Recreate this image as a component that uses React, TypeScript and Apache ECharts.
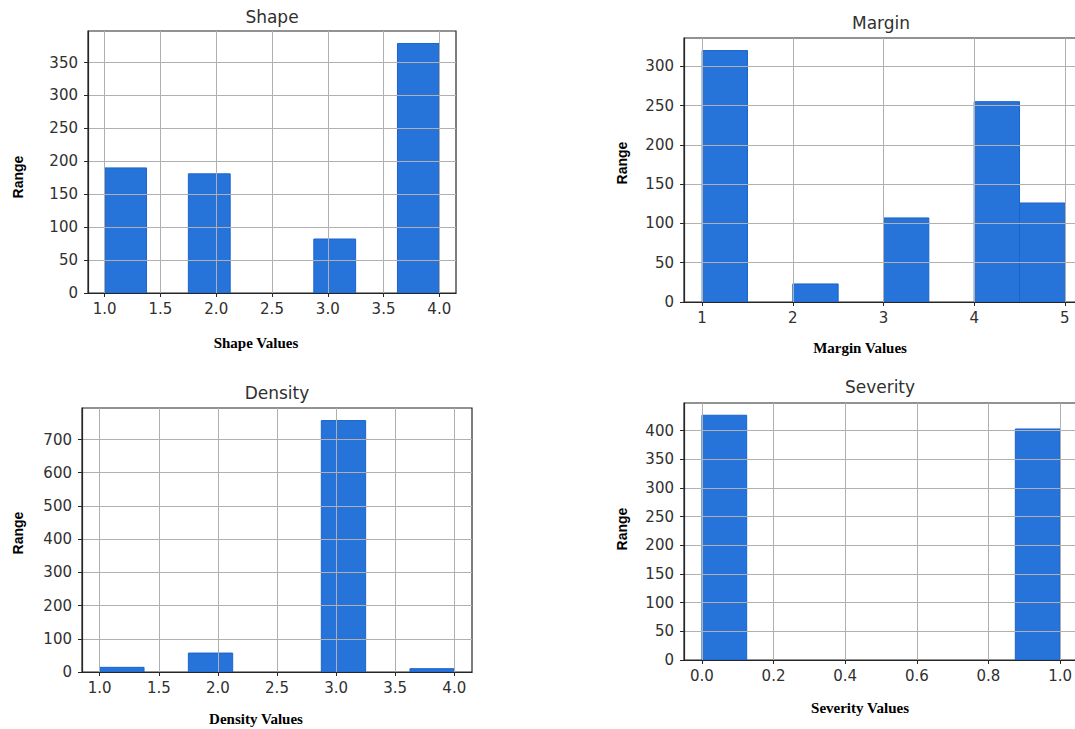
import React, { useEffect, useRef } from "react";
import * as echarts from "echarts";

// Histogram data (8 bins each)
const shapeRange = [1, 4];
const shapeCounts = [190, 0, 181, 0, 0, 82, 0, 379];
const shapeTicks = [1.0, 1.5, 2.0, 2.5, 3.0, 3.5, 4.0];

const marginRange = [1, 5];
const marginCounts = [320, 0, 23, 0, 107, 0, 255, 126];
const marginTicks = [1, 2, 3, 4, 5];

const densityRange = [1, 4];
const densityCounts = [14, 0, 57, 0, 0, 757, 0, 10];
const densityTicks = [1.0, 1.5, 2.0, 2.5, 3.0, 3.5, 4.0];

const severityRange = [0, 1];
const severityCounts = [427, 0, 0, 0, 0, 0, 0, 403];
const severityTicks = [0.0, 0.2, 0.4, 0.6, 0.8, 1.0];

const shapeYTicks = [0, 50, 100, 150, 200, 250, 300, 350];
const marginYTicks = [0, 50, 100, 150, 200, 250, 300];
const densityYTicks = [0, 100, 200, 300, 400, 500, 600, 700];
const severityYTicks = [0, 50, 100, 150, 200, 250, 300, 350, 400];

const titles = ["Shape", "Margin", "Density", "Severity"];
const xNames = ["Shape Values", "Margin Values", "Density Values", "Severity Values"];

const TICK_FONT = "DejaVu Sans";
const TEXT_COLOR = "#303030";
const SPINE = "#262626";
const GRIDC = "#b0b0b0";
const FILL = "#2673d9";
const EDGE = "#1c64cc";

function binData(range: number[], counts: number[]) {
  const w = (range[1] - range[0]) / counts.length;
  const out: number[][] = [];
  counts.forEach((c, i) => {
    if (c > 0) out.push([range[0] + i * w, range[0] + (i + 1) * w, c]);
  });
  return out;
}

export default function App() {
  const ref = useRef<HTMLDivElement>(null);
  useEffect(() => {
    if (!ref.current) return;
    const chart = echarts.init(ref.current, undefined, { renderer: "svg" });

    const panels = [
      { range: shapeRange, counts: shapeCounts, xt: shapeTicks, yt: shapeYTicks, dec: 1,
        grid: { left: 88, top: 31, width: 368, height: 262 }, title: [272, 17], xname: [256, 343], yname: [18, 177] },
      { range: marginRange, counts: marginCounts, xt: marginTicks, yt: marginYTicks, dec: 0,
        grid: { left: 684, top: 38, width: 399, height: 264 }, title: [881, 23], xname: [860, 348], yname: [622, 163] },
      { range: densityRange, counts: densityCounts, xt: densityTicks, yt: densityYTicks, dec: 1,
        grid: { left: 82, top: 408, width: 390, height: 264 }, title: [277, 393], xname: [256, 719], yname: [18, 533] },
      { range: severityRange, counts: severityCounts, xt: severityTicks, yt: severityYTicks, dec: 1,
        grid: { left: 684, top: 403, width: 394, height: 257 }, title: [880, 387], xname: [860, 708], yname: [622, 529] },
    ];

    const grids: any[] = [];
    const xAxes: any[] = [];
    const yAxes: any[] = [];
    const series: any[] = [];
    const graphics: any[] = [];

    panels.forEach((p, i) => {
      const span = p.range[1] - p.range[0];
      const maxCount = Math.max(...p.counts);
      grids.push({ ...p.grid, show: true, borderColor: SPINE, borderWidth: 1.2, backgroundColor: "transparent", containLabel: false });
      xAxes.push({
        type: "value", gridIndex: i, min: p.range[0] - span * 0.05, max: p.range[1] + span * 0.05, z: 5,
        axisLine: { show: true, onZero: false, lineStyle: { color: SPINE, width: 1.2 } },
        axisTick: { show: true, inside: false, length: 4, customValues: p.xt, lineStyle: { color: SPINE } },
        axisLabel: { show: true, customValues: p.xt, margin: 8, fontFamily: TICK_FONT, fontSize: 15, color: TEXT_COLOR,
          formatter: (v: number) => v.toFixed(p.dec) },
        splitLine: { show: true, lineStyle: { color: GRIDC, width: 1 } },
      });
      yAxes.push({
        type: "value", gridIndex: i, min: 0, max: maxCount * 1.05, z: 5,
        axisLine: { show: true, onZero: false, lineStyle: { color: SPINE, width: 1.2 } },
        axisTick: { show: true, inside: false, length: 4, customValues: p.yt, lineStyle: { color: SPINE } },
        axisLabel: { show: true, customValues: p.yt, margin: 10, fontFamily: TICK_FONT, fontSize: 15, color: TEXT_COLOR },
        splitLine: { show: true, lineStyle: { color: GRIDC, width: 1 } },
      });
      series.push({
        type: "custom", xAxisIndex: i, yAxisIndex: i, z: 2,
        data: binData(p.range, p.counts),
        encode: { x: [0, 1], y: 2 },
        renderItem: (params: any, api: any) => {
          const a = api.coord([api.value(0), 0]);
          const b = api.coord([api.value(1), api.value(2)]);
          return {
            type: "rect",
            shape: { x: a[0], y: b[1], width: b[0] - a[0], height: a[1] - b[1] },
            style: { fill: FILL, stroke: EDGE, lineWidth: 1 },
          };
        },
      });
      graphics.push({
        type: "text", x: p.title[0], y: p.title[1],
        style: { text: titles[i], font: `17px "${TICK_FONT}"`, fill: TEXT_COLOR, textAlign: "center", textVerticalAlign: "middle" },
      });
      graphics.push({
        type: "text", x: p.xname[0], y: p.xname[1],
        style: { text: xNames[i], font: `bold 15px "Liberation Serif"`, fill: "#000", textAlign: "center", textVerticalAlign: "middle" },
      });
      graphics.push({
        type: "text", x: p.yname[0], y: p.yname[1], rotation: Math.PI / 2,
        style: { text: "Range", font: `bold 14px "Liberation Sans"`, fill: "#000", textAlign: "center", textVerticalAlign: "middle" },
      });
    });

    chart.setOption({
      animation: false,
      backgroundColor: "#fff",
      grid: grids,
      xAxis: xAxes,
      yAxis: yAxes,
      series,
      graphic: graphics,
    });
    return () => chart.dispose();
  }, []);
  return (
    <div style={{ position: "fixed", left: 0, top: 0, width: 1075, height: 729, overflow: "hidden", background: "#fff" }}>
      <div ref={ref} style={{ position: "absolute", left: 0, top: 0, width: 1100, height: 729 }} />
    </div>
  );
}
